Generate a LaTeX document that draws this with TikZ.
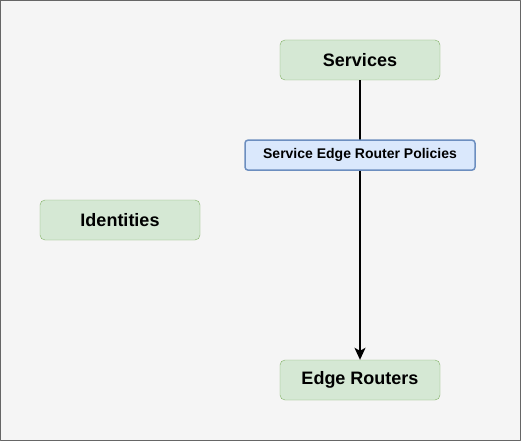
\documentclass[tikz,border=0pt]{standalone}
\usepackage{fontspec}
\setmainfont{Liberation Sans}
\usetikzlibrary{arrows.meta}
\definecolor{bgfill}{HTML}{F5F5F5}
\definecolor{bgline}{HTML}{666666}
\definecolor{grfill}{HTML}{D5E8D4}
\definecolor{grline}{HTML}{82B366}
\definecolor{blfill}{HTML}{DAE8FC}
\definecolor{blline}{HTML}{6C8EBF}
\tikzset{
	entity/.style={draw=grline, fill=grfill, rounded corners=5pt, minimum width=160pt, minimum height=40pt, inner sep=0pt, font=\fontsize{18}{22}\selectfont\bfseries},
	policy/.style={draw=blline, fill=blfill, rounded corners=3pt, minimum width=230pt, minimum height=30pt, inner sep=0pt, font=\fontsize{14}{17}\selectfont\bfseries}
}
\begin{document}
\begin{tikzpicture}[x=1pt, y=-1pt, line join=round, >={Stealth[length=12pt, width=11pt, inset=3pt]}]
	\useasboundingbox (0,0) rectangle (521,441);
	\draw[bgline, fill=bgfill] (0.5,0.5) rectangle (520.5,440.5); % nen
	\node[entity] (services) at (360,60) {Services};
	\node[entity] (identities) at (120,220) {Identities};
	\node[entity] (routers) at (360,380) {Edge Routers};
	\draw[->, line width=1.5pt] (services)--(routers)
		node[policy, pos=0.268] (serp) {Service Edge Router Policies};
\end{tikzpicture}
\end{document}
